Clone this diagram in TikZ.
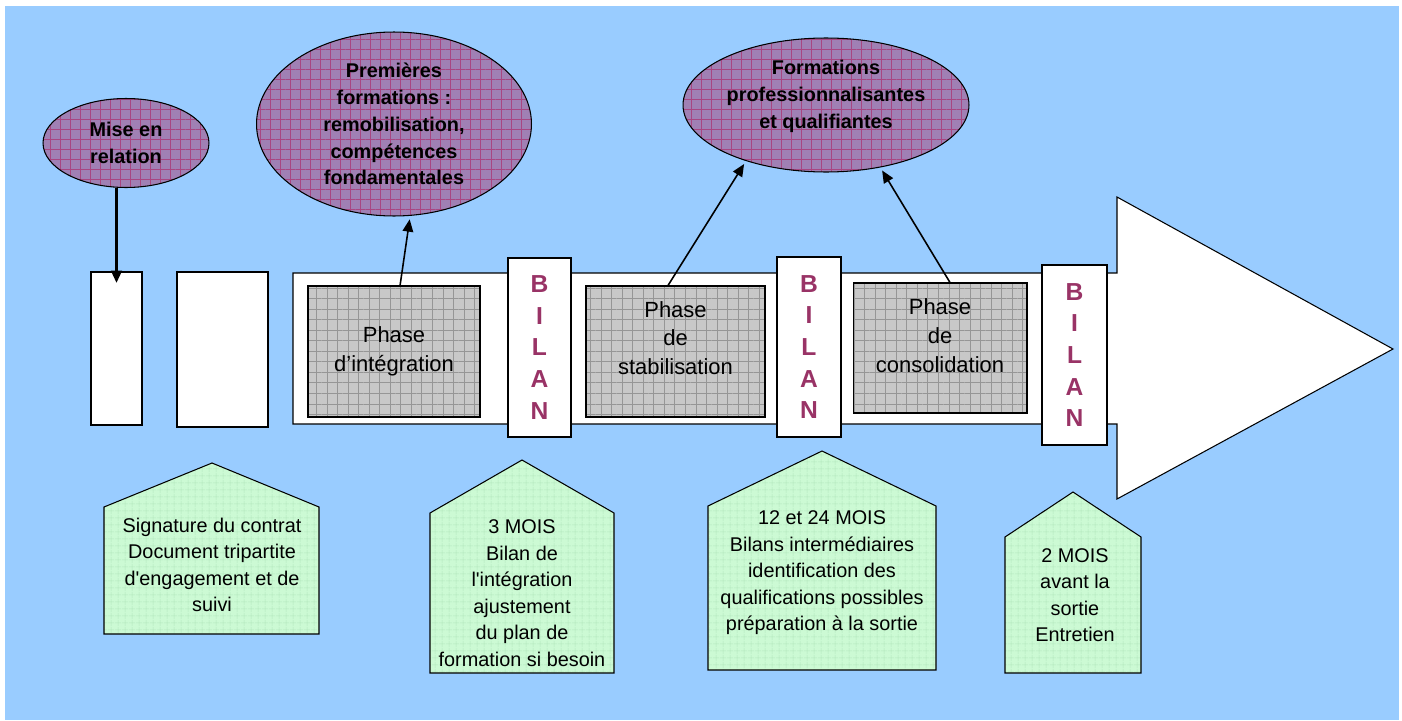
\documentclass[tikz,border=0pt]{standalone}
\usepackage{fontspec}
\setmainfont{Liberation Sans}
\usetikzlibrary{shapes.geometric,arrows.meta,patterns.meta}

\definecolor{fond}{RGB}{153,204,255}
\definecolor{bilanviolet}{RGB}{153,51,102}
\definecolor{mauve}{RGB}{160,128,180}
\definecolor{grillemauve}{RGB}{168,70,130}
\definecolor{gris}{RGB}{200,200,200}
\definecolor{grisfonce}{RGB}{150,150,150}
\definecolor{vertpale}{RGB}{204,250,212}
\definecolor{vertgrille}{RGB}{180,232,190}

\tikzset{
>={Stealth[inset=0pt,length=7pt,width=6pt]},
fleche/.style={->,shorten >=2pt,line width=0.9pt},
boite/.style={draw,line width=0.6pt,fill=white,inner sep=0pt},
titre/.style={font=\fontsize{11.3}{15.3}\selectfont\bfseries,align=center},
bulle/.style={titre,ellipse,draw,line width=0.6pt,inner sep=0pt,
  preaction={fill=mauve},pattern={Hatch[distance=5.7pt,line width=0.25pt]},pattern color=grillemauve},
phase/.style={draw,line width=0.6pt,inner sep=0pt,
  preaction={fill=gris},pattern={Hatch[distance=6pt,line width=0.25pt]},pattern color=grisfonce},
phasetexte/.style={font=\fontsize{12.5}{16.4}\selectfont,align=center},
bilan/.style={boite,text=bilanviolet,font=\fontsize{14}{18}\selectfont\bfseries,align=center},
maison/.style={draw,line width=0.6pt,
  preaction={fill=vertpale},pattern={Hatch[distance=4pt,line width=0.3pt]},pattern color=vertgrille},
note/.style={font=\fontsize{11.3}{15.1}\selectfont,align=center},
}

\begin{document}
\begin{tikzpicture}[x=0.02cm,y=-0.02cm]
\useasboundingbox (0,0) rectangle (1402,720);
\fill[white] (0,0) rectangle (1402,720);
\fill[fond] (5,6) rectangle (1399,720);

% bulles
\node[bulle,minimum width=3.32cm,minimum height=1.78cm] (mer) at (126,143) {Mise en\\relation};
\node[bulle,minimum width=5.5cm,minimum height=3.68cm] (pf) at (394,124) {Premières\\formations :\\remobilisation,\\compétences\\fondamentales};
\node[bulle,minimum width=5.72cm,minimum height=2.68cm] (fpq) at (826,105) {};
\node[titre] (fpqt) at (826,96) {Formations\\professionnalisantes\\et qualifiantes};

% grande fleche
\draw[line width=0.6pt,fill=white] (293,273) -- (1117,273) -- (1117,197) -- (1393,349)
  -- (1117,499) -- (1117,424) -- (293,424) -- cycle;

% cases blanches
\node[boite,minimum width=1.02cm,minimum height=3.06cm] (r1) at (116.5,348.5) {};
\node[boite,minimum width=1.82cm,minimum height=3.1cm] (r2) at (222.5,349.5) {};

% phases
\node[phase,minimum width=3.44cm,minimum height=2.62cm] (ph1) at (394,351.5) {};
\node[phasetexte] (ph1t) at (394,351.5) {Phase\\d'intégration};
\node[phase,minimum width=3.58cm,minimum height=2.62cm] (ph2) at (675.5,351.5) {};
\node[phasetexte] (ph2t) at (675.5,338) {Phase\\de\\stabilisation};
\node[phase,minimum width=3.48cm,minimum height=2.6cm] (ph3) at (940,348) {};
\node[phasetexte] (ph3t) at (940,335.5) {Phase\\de\\consolidation};

% bilans
\node[bilan,minimum width=1.26cm,minimum height=3.58cm] (b1) at (539.5,347.5) {B\\I\\L\\A\\N};
\node[bilan,minimum width=1.28cm,minimum height=3.6cm] (b2) at (809,347) {B\\I\\L\\A\\N};
\node[bilan,minimum width=1.3cm,minimum height=3.6cm] (b3) at (1074.5,355) {B\\I\\L\\A\\N};

% maisons
\draw[maison] (104,634) -- (104,507) -- (212,463) -- (319,507) -- (319,634) -- cycle;
\node[note] (n1) at (212,565) {Signature du contrat\\Document tripartite\\d\textquotesingle engagement et de\\suivi};
\draw[maison] (430,673) -- (430,513) -- (522,460) -- (614,513) -- (614,673) -- cycle;
\node[note] (n2) at (522,593) {3 MOIS\\Bilan de\\l\textquotesingle intégration\\ajustement\\du plan de\\formation si besoin};
\draw[maison] (708,670) -- (708,506) -- (822,451) -- (936,506) -- (936,670) -- cycle;
\node[note] (n3) at (822,573) {12 et 24 MOIS\\Bilans intermédiaires\\identification des\\qualifications possibles\\préparation à la sortie};
\draw[maison] (1005,673) -- (1005,537) -- (1073,492) -- (1141,537) -- (1141,673) -- cycle;
\node[note] (n4) at (1075,595) {2 MOIS\\avant la\\sortie\\Entretien};

% liens
\draw[fleche,line width=1.5pt] (r1.north |- mer.south) -- ([yshift=-0.3cm]r1.north);
\draw[fleche] ([xshift=0.12cm]ph1.north) -- (pf.-80);
\draw[fleche] ([xshift=-0.15cm]ph2.north) -- (fpq.-145.5);
\draw[fleche] ([xshift=0.2cm]ph3.north) -- (fpq.-49.3);
\end{tikzpicture}
\end{document}
